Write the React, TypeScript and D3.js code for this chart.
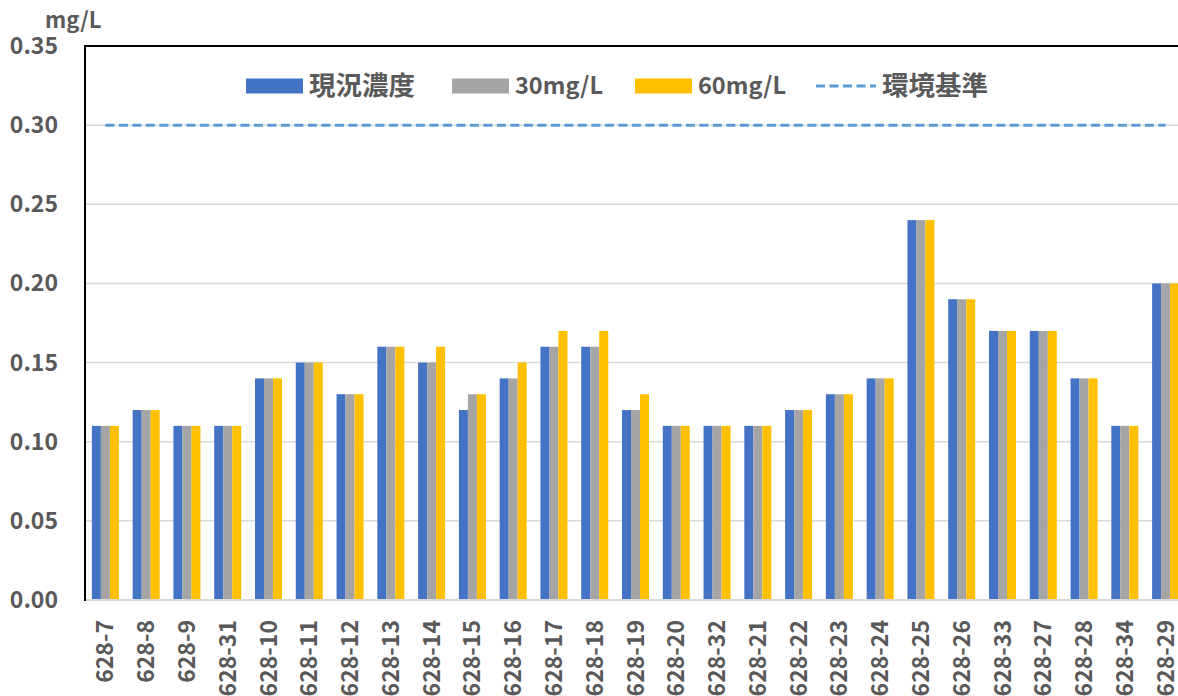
import * as d3 from "d3";
import { useEffect, useRef } from "react";

const sites = [
  "628-7", "628-8", "628-9", "628-31", "628-10", "628-11", "628-12", "628-13", "628-14",
  "628-15", "628-16", "628-17", "628-18", "628-19", "628-20", "628-32", "628-21", "628-22",
  "628-23", "628-24", "628-25", "628-26", "628-33", "628-27", "628-28", "628-34", "628-29",
];
const current = [0.11, 0.12, 0.11, 0.11, 0.14, 0.15, 0.13, 0.16, 0.15, 0.12, 0.14, 0.16, 0.16, 0.12, 0.11, 0.11, 0.11, 0.12, 0.13, 0.14, 0.24, 0.19, 0.17, 0.17, 0.14, 0.11, 0.20];
const dose30 = [0.11, 0.12, 0.11, 0.11, 0.14, 0.15, 0.13, 0.16, 0.15, 0.13, 0.14, 0.16, 0.16, 0.12, 0.11, 0.11, 0.11, 0.12, 0.13, 0.14, 0.24, 0.19, 0.17, 0.17, 0.14, 0.11, 0.20];
const dose60 = [0.11, 0.12, 0.11, 0.11, 0.14, 0.15, 0.13, 0.16, 0.16, 0.13, 0.15, 0.17, 0.17, 0.13, 0.11, 0.11, 0.11, 0.12, 0.13, 0.14, 0.24, 0.19, 0.17, 0.17, 0.14, 0.11, 0.20];
const standard = 0.3;
const yTicks = [0, 0.05, 0.1, 0.15, 0.2, 0.25, 0.3, 0.35];
const seriesNames = ["現況濃度", "30mg/L", "60mg/L"];
const seriesColors = ["#4472C4", "#A5A5A5", "#FFC000"];

export default function App() {
  const svgRef = useRef<SVGSVGElement>(null);

  useEffect(() => {
    const svg = d3.select(svgRef.current);
    svg.selectAll("*").remove();

    const width = 1178, height = 696;
    const left = 85, top = 46, bottom = 600;
    const right = 1186; // plot runs past the picture edge
    const font = "'Noto Sans CJK JP', 'Open Sans', sans-serif";
    const textColor = "#595959";

    const x = d3.scaleBand().domain(sites).range([left, right]).paddingInner(0.3375).paddingOuter(0.16875);
    const x0 = d3.scaleBand().domain(sites).range([left, right]);
    const sub = d3.scaleBand().domain(["0", "1", "2"]).range([0, x.bandwidth()]);
    const y = d3.scaleLinear().domain([0, 0.35]).range([bottom, top]);

    // grid lines
    svg.append("g").selectAll("line")
      .data(yTicks.filter(t => t > 0 && t < 0.35))
      .join("line")
      .attr("x1", left).attr("x2", right)
      .attr("y1", d => y(d)).attr("y2", d => y(d))
      .attr("stroke", "#d9d9d9").attr("stroke-width", 1.5);

    // bars
    const all = [current, dose30, dose60];
    all.forEach((vals, si) => {
      svg.append("g").selectAll("rect")
        .data(vals)
        .join("rect")
        .attr("x", (d, i) => x0(sites[i])! + (x0.bandwidth() - x.bandwidth()) / 2 + sub(String(si))!)
        .attr("y", d => y(d))
        .attr("width", sub.bandwidth())
        .attr("height", d => bottom - y(d))
        .attr("fill", seriesColors[si]);
    });

    // bottom axis line
    svg.append("line")
      .attr("x1", left).attr("x2", right).attr("y1", bottom).attr("y2", bottom)
      .attr("stroke", "#d9d9d9").attr("stroke-width", 2);

    // frame: left and top black
    svg.append("path")
      .attr("d", `M${left},${bottom + 1}V${top}H${right}`)
      .attr("fill", "none").attr("stroke", "#000").attr("stroke-width", 2);

    // standard line
    const line = d3.line<string>().x(d => x0(d)! + x0.bandwidth() / 2).y(() => y(standard));
    svg.append("path")
      .attr("d", line(sites))
      .attr("fill", "none").attr("stroke", "#5B9BD5").attr("stroke-width", 3)
      .attr("stroke-dasharray", "9,4.5");

    // y tick labels
    svg.append("g").selectAll("text")
      .data(yTicks)
      .join("text")
      .attr("x", 58).attr("y", d => y(d))
      .attr("dy", "0.35em")
      .attr("text-anchor", "end")
      .attr("font-family", font).attr("font-weight", "bold").attr("font-size", 23)
      .attr("fill", textColor)
      .text(d => d.toFixed(2));

    svg.append("text")
      .attr("x", 45).attr("y", 28)
      .attr("font-family", font).attr("font-weight", "bold").attr("font-size", 22)
      .attr("fill", textColor)
      .text("mg/L");

    // x labels
    svg.append("g").selectAll("text")
      .data(sites)
      .join("text")
      .attr("transform", d => `translate(${x0(d)! + x0.bandwidth() / 2},620) rotate(-90)`)
      .attr("dy", "0.35em")
      .attr("text-anchor", "end")
      .attr("font-family", font).attr("font-weight", "bold").attr("font-size", 23)
      .attr("fill", textColor)
      .text(d => d);

    // legend
    const legendY = 86;
    const legendX = [246, 452, 635];
    const lg = svg.append("g");
    seriesNames.forEach((name, i) => {
      lg.append("rect")
        .attr("x", legendX[i]).attr("y", legendY - 7.5).attr("width", 57).attr("height", 15)
        .attr("fill", seriesColors[i]);
      lg.append("text")
        .attr("x", legendX[i] + 63).attr("y", legendY).attr("dy", "0.35em")
        .attr("font-family", font).attr("font-weight", "bold").attr("font-size", i === 0 ? 26.5 : 23.5)
        .attr("fill", textColor)
        .text(name);
    });
    lg.append("line")
      .attr("x1", 816).attr("x2", 876).attr("y1", legendY).attr("y2", legendY)
      .attr("stroke", "#5B9BD5").attr("stroke-width", 3).attr("stroke-dasharray", "9,4.5");
    lg.append("text")
      .attr("x", 882).attr("y", legendY).attr("dy", "0.35em")
      .attr("font-family", font).attr("font-weight", "bold").attr("font-size", 26.5)
      .attr("fill", textColor)
      .text("環境基準");

    svg.attr("width", width).attr("height", height);
  }, []);

  return (
    <svg ref={svgRef} width={1178} height={696}
      style={{ position: "absolute", left: 0, top: 0, background: "#fff" }} />
  );
}
